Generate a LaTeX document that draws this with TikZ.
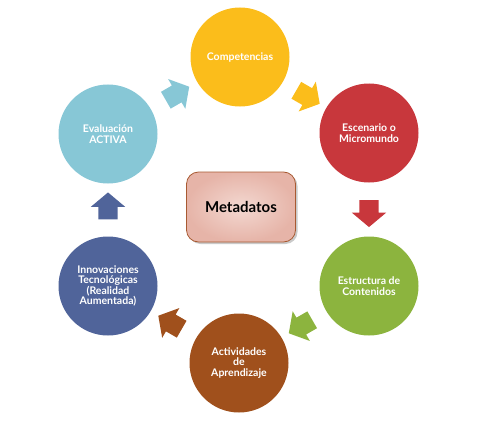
\documentclass[tikz,border=0pt]{standalone}
\usepackage{fontspec}
\setmainfont{Lato}
\usetikzlibrary{shapes.arrows,shadows,calc}
\definecolor{cYel}{HTML}{FBBD1B}
\definecolor{cRed}{HTML}{C8373C}
\definecolor{cGrn}{HTML}{8CB43E}
\definecolor{cBrn}{HTML}{A0501C}
\definecolor{cBlu}{HTML}{50649A}
\definecolor{cLbl}{HTML}{87C7D6}
\definecolor{metaIn}{HTML}{F3D8D1}
\definecolor{metaOut}{HTML}{E6B4A8}
\definecolor{metaLine}{HTML}{A85A32}
\begin{document}
\begin{tikzpicture}[x=1pt,y=-1pt,
  stage/.style={circle, fill=#1, minimum size=99pt, inner sep=0pt, text=white,
    font=\bfseries\fontsize{10.5}{10.6}\selectfont, align=center},
  flow/.style={single arrow, fill=#1, draw=none, minimum height=27pt,
    inner xsep=0pt, inner ysep=9.5pt, single arrow head extend=7.5pt,
    single arrow tip angle=100},
  meta/.style={rounded corners=12pt, draw=metaLine, line width=0.8pt,
    inner color=metaIn, outer color=metaOut, minimum width=109pt, minimum height=70pt,
    font=\bfseries\fontsize{15}{17}\selectfont, text=black,
    drop shadow={shadow xshift=2pt, shadow yshift=-2pt, opacity=0.35, fill=black!60}}]
\useasboundingbox (0,0) rectangle (486,425);
\node[stage=cYel] (comp) at (240,57) {Competencias};
\node[stage=cRed] (esc) at (369,133) {Escenario o\\Micromundo};
\node[stage=cGrn] (est) at (369,286) {Estructura de\\Contenidos};
\node[stage=cBrn] (act) at (239,363) {Actividades\\de\\Aprendizaje};
\node[stage=cBlu] (inn) at (108,286) {Innovaciones\\Tecnológicas\\(Realidad\\Aumentada)};
\node[stage=cLbl] (eva) at (108,134) {Evaluación\\ACTIVA};
\node[meta] (meta) at (241,207) {Metadatos};
\node[flow=cYel, rotate=-30] (a1) at ($(comp)!0.5!(esc)$) {};
\node[flow=cRed, rotate=-90] (a2) at ($(esc)!0.5!(est)$) {};
\node[flow=cGrn, rotate=-150] (a3) at ($(est)!0.5!(act)$) {};
\node[flow=cBrn, rotate=150] (a4) at ($(act)!0.5!(inn)$) {};
\node[flow=cBlu, rotate=90] (a5) at ($(inn)!0.5!(eva)$) {};
\node[flow=cLbl, rotate=30] (a6) at ($(eva)!0.5!(comp)$) {};
\end{tikzpicture}
\end{document}
